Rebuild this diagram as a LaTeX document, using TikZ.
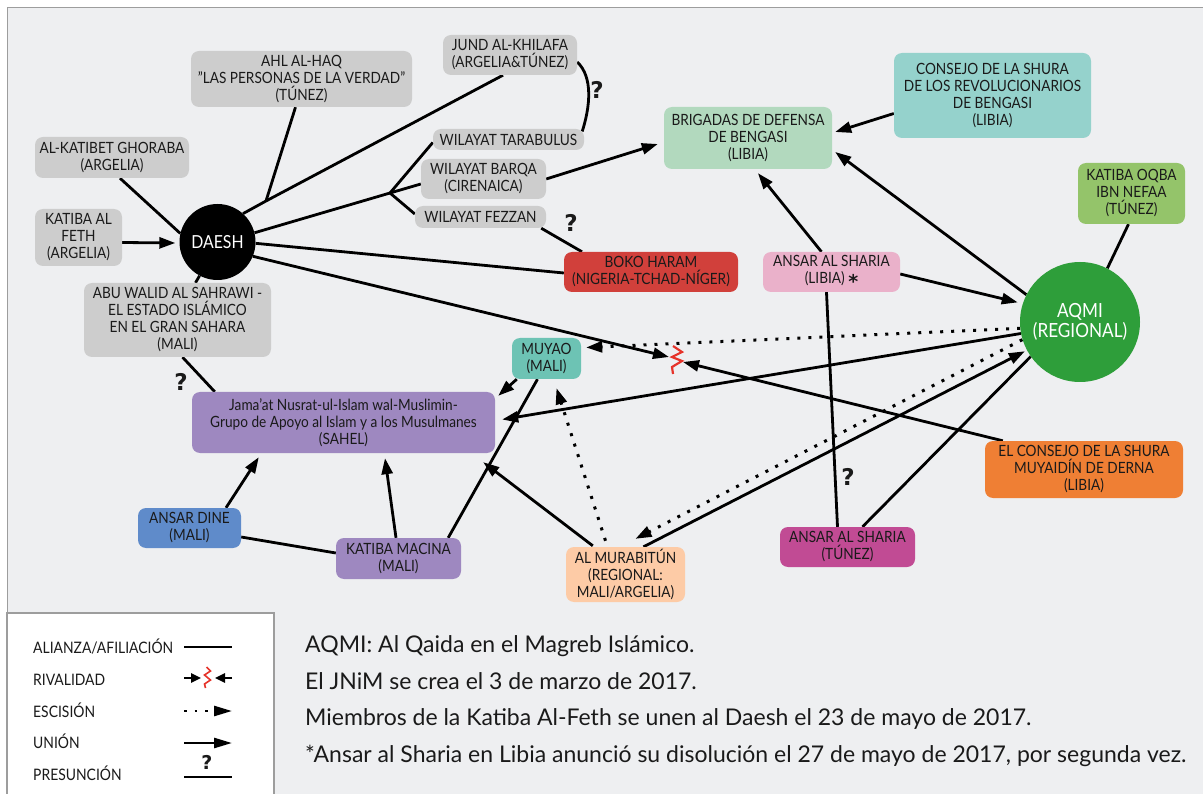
\documentclass[tikz,border=0pt]{standalone}
\usepackage{fontspec}
\setmainfont{Lato}[FakeStretch=0.88]
\newfontfamily\notefam{Lato}
\newfontfamily\qfam{DejaVu Sans}
\usetikzlibrary{arrows.meta,calc}
\definecolor{bgc}{HTML}{EEEFF1}
\definecolor{frame}{HTML}{9D9D9D}
\definecolor{cgray}{HTML}{CDCDCD}
\definecolor{cbrig}{HTML}{B2D9BE}
\definecolor{ccons}{HTML}{95D2CC}
\definecolor{coqba}{HTML}{94C46A}
\definecolor{caqmi}{HTML}{2E9E3A}
\definecolor{cboko}{HTML}{D1403B}
\definecolor{casl}{HTML}{EAB1CA}
\definecolor{cmuyao}{HTML}{6DC3B4}
\definecolor{cjnim}{HTML}{9E88C0}
\definecolor{cdine}{HTML}{5F8BCA}
\definecolor{cmurab}{HTML}{FDCBA6}
\definecolor{cast}{HTML}{C14B94}
\definecolor{cderna}{HTML}{EF7F34}
\definecolor{rivred}{HTML}{E6332A}
\definecolor{txt}{HTML}{1A1A1A}
\newcommand\boxfont{\fontsize{15.5}{17}\selectfont}
\newcommand\qfont{\qfam\fontsize{23}{23}\selectfont\bfseries}
\newcommand\daeshfont{\fontsize{18}{18}\selectfont}
\newcommand\aqmifont{\fontsize{19.5}{20}\selectfont}
\newcommand\notefont{\notefam\fontsize{23}{25}\selectfont}
\newcommand\legfont{\fontsize{15.8}{16}\selectfont}
\pgfdeclarelayer{bg}
\pgfsetlayers{bg,main}
\begin{document}
\begin{tikzpicture}[x=1pt,y=-1pt,
  box/.style={rounded corners=8pt,inner sep=0pt,align=center,font=\boxfont,text=txt},
  con/.style={line width=2.8pt},
  uni/.style={con,-{Triangle[length=16pt,width=11pt]}},
  esc/.style={line width=3pt,dash pattern=on 3pt off 8pt,-{Triangle[length=16pt,width=11pt]}},
  qm/.style={font=\qfont,text=txt,inner sep=0pt},
  riv/.style={draw=rivred,line width=2.2pt,line join=miter},
  note/.style={anchor=base west,font=\notefont,text=txt,inner sep=0pt},
  leg/.style={anchor=base west,font=\legfont,text=txt,inner sep=0pt}]
\useasboundingbox (0,0) rectangle (1203,794);

% nodes
\node[box,fill=cgray,minimum width=221pt,minimum height=56pt] (ahl) at (301.5,79) {AHL AL-HAQ\\"LAS PERSONAS DE LA VERDAD"\\(TÚNEZ)};
\node[box,fill=cgray,minimum width=134pt,minimum height=40pt] (jund) at (510,55) {JUND AL-KHILAFA\\(ARGELIA\&TÚNEZ)};
\node[box,fill=cgray,minimum width=154pt,minimum height=41pt] (ghoraba) at (112,157.5) {AL-KATIBET GHORABA\\(ARGELIA)};
\node[box,fill=cgray,minimum width=87pt,minimum height=57pt] (feth) at (78.5,237.5) {KATIBA AL\\FETH\\(ARGELIA)};
\node[box,fill=cgray,minimum width=151pt,minimum height=21pt] (tarab) at (508.5,139.5) {WILAYAT TARABULUS};
\node[box,fill=cgray,minimum width=125pt,minimum height=40pt] (barqa) at (483.5,179) {WILAYAT BARQA\\(CIRENAICA)};
\node[box,fill=cgray,minimum width=131pt,minimum height=22pt] (fezzan) at (480.5,217) {WILAYAT FEZZAN};
\node[box,fill=cgray,minimum width=187pt,minimum height=74pt] (abuwalid) at (177.5,320) {ABU WALID AL SAHRAWI -\\EL ESTADO ISLÁMICO\\EN EL GRAN SAHARA\\(MALI)};
\node[circle,fill=black,minimum size=76pt,inner sep=0pt,text=white,font=\daeshfont] (daesh) at (217.5,242) {DAESH};
\node[box,fill=cbrig,minimum width=168pt,minimum height=62pt] (brig) at (748,138) {BRIGADAS DE DEFENSA\\DE BENGASI\\(LIBIA)};
\node[box,fill=ccons,minimum width=197pt,minimum height=85pt] (consejo) at (992.5,95.5) {CONSEJO DE LA SHURA\\DE LOS REVOLUCIONARIOS\\DE BENGASI\\(LIBIA)};
\node[box,fill=coqba,minimum width=107pt,minimum height=61pt] (oqba) at (1131.5,193.5) {KATIBA OQBA\\IBN NEFAA\\(TÚNEZ)};
\node[circle,fill=caqmi,minimum size=120pt,inner sep=0pt,text=white,align=center,font=\aqmifont] (aqmi) at (1080,322) {AQMI\\(REGIONAL)};
\node[box,fill=cboko,minimum width=174pt,minimum height=40pt] (boko) at (651,272) {BOKO HARAM\\(NIGERIA-TCHAD-NÍGER)};
\node[box,fill=casl,minimum width=137pt,minimum height=40pt] (asl) at (831.5,272) {ANSAR AL SHARIA\\(LIBIA) \raisebox{-0.3em}{\qfam\fontsize{19}{17}\selectfont\bfseries *}};
\node[box,fill=cmuyao,minimum width=69pt,minimum height=41pt] (muyao) at (546.5,358.5) {MUYAO\\(MALI)};
\node[box,fill=cjnim,minimum width=303pt,minimum height=61pt] (jnim) at (343.5,422.5) {Jama'at Nusrat-ul-Islam wal-Muslimin-\\Grupo de Apoyo al Islam y a los Musulmanes\\(SAHEL)};
\node[box,fill=cdine,minimum width=103pt,minimum height=40pt] (dine) at (189.5,528) {ANSAR DINE\\(MALI)};
\node[box,fill=cjnim,minimum width=125pt,minimum height=41pt] (macina) at (398.5,558.5) {KATIBA MACINA\\(MALI)};
\node[box,fill=cmurab,minimum width=119pt,minimum height=55pt] (murab) at (625.5,574.5) {AL MURABITÚN\\(REGIONAL:\\MALI/ARGELIA)};
\node[box,fill=cast,minimum width=135pt,minimum height=40pt] (ast) at (847.5,547) {ANSAR AL SHARIA\\(TÚNEZ)};
\node[box,fill=cderna,minimum width=198pt,minimum height=57pt] (derna) at (1084,469.5) {EL CONSEJO DE LA SHURA\\MUYAIDÍN DE DERNA\\(LIBIA)};

\coordinate (j1) at (266,201);
\coordinate (j2) at (390,193);
\coordinate (rz) at (676,360);

% question marks
\node[qm] (q1) at (597,90) {?};
\node[qm] (q2) at (571,223) {?};
\node[qm] (q3) at (181,382) {?};
\node[qm] (q4) at (848,477) {?};

% notes
\node[note] (n1) at (305,652) {AQMI: Al Qaida en el Magreb Islámico.};
\node[note] (n2) at (305,689) {El JNiM se crea el 3 de marzo de 2017.};
\node[note] (n3) at (305,725) {Miembros de la Katiba Al-Feth se unen al Daesh el 23 de mayo de 2017.};
\node[note] (n4) at (305,762) {*Ansar al Sharia en Libia anunció su disolución el 27 de mayo de 2017, por segunda vez.};

\begin{pgfonlayer}{bg}
\fill[white] (0,0) rectangle (1203,794);
\fill[bgc] (7,8) rectangle (1203,794);
\draw[frame,line width=1pt] (7,794) -- (7,8) -- (1203,8);
% legend box
\fill[white] (7,613) rectangle (274,794);
\draw[frame,line width=1.2pt] (7,794) -- (7,613) -- (274,613) -- (274,794);

% edges
\draw[con] ($(ghoraba.south)+(8,0)$) -- (daesh.167);
\draw[uni] ($(feth.east)+(0,5)$) -- ($(daesh.west)+(-4,1)$);
\draw[con] (daesh.48) -- (j1) -- ($(jund.south)+(-7,0)$);
\draw[con] (j1) -- ($(ahl.south)+(-6,0)$);
\draw[con] (daesh.14) -- (j2);
\draw[con] (j2) -- ($(tarab.west)+(0,3)$);
\draw[con] (j2) -- ($(barqa.west)+(0,5)$);
\draw[con] (j2) -- ($(fezzan.west)+(0,-3)$);
\draw[con] ($(jund.east)+(0,7)$) .. controls +(16,15) and +(8,-25) .. ($(tarab.east)+(-2,-8)$);
\draw[uni] (barqa.east) -- ($(brig.west)+(-6,6)$);
\draw[con] ($(fezzan.south east)+(-5,0)$) -- ($(boko.north)+(-69,0)$);
\draw[con] (daesh.-2) -- ($(boko.west)+(0,1)$);
\draw[uni] (daesh.-22) -- ($(rz)+(-7,-3)$);
\draw[uni] ($(derna.north west)+(18,0)$) -- ($(rz)+(7,2)$);
\draw[con] (daesh.-118) -- ($(abuwalid.north)+(18,0)$);
\draw[con] ($(abuwalid.south)+(5,0)$) -- ($(jnim.north west)+(23,0)$);
\draw[uni] ($(consejo.west)+(0,18)$) -- ($(brig.east)+(3,-6)$);
\draw[uni] (aqmi.153) -- ($(brig.east)+(3,14)$);
\draw[uni] ($(asl.north)+(-10,0)$) -- ($(brig.south)+(10,4)$);
\draw[uni] ($(asl.east)+(0,2)$) -- ($(aqmi.162)+(-5,-1)$);
\draw[con] ($(oqba.south)+(-3,0)$) -- (aqmi.63);
\draw[esc] (aqmi.186) -- ($(muyao.east)+(5,-11)$);
\draw[uni] (aqmi.191) -- ($(jnim.east)+(7,-3)$);
\draw[esc] (aqmi.197) -- ($(murab.north)+(10,-8)$);
\draw[uni] ($(murab.north)+(18,0)$) -- ($(aqmi.208)+(-2,1)$);
\draw[con] (aqmi.215) -- ($(ast.north)+(15,0)$);
\draw[con] ($(asl.south)+(-5,0)$) -- ($(ast.north)+(-10,0)$);
\draw[uni] ($(muyao.south west)+(5,0)$) -- ($(jnim.north east)+(3,4)$);
\draw[con] ($(macina.north east)+(-13,0)$) -- ($(muyao.south)+(-9,0)$);
\draw[esc] ($(murab.north)+(-20,-6)$) -- ($(muyao.south)+(10,9)$);
\draw[uni] ($(murab.north west)+(27,-1)$) -- ($(jnim.south east)+(-12,9)$);
\draw[uni] ($(dine.north)+(36.5,0)$) -- ($(jnim.south west)+(67,4)$);
\draw[uni] ($(macina.north)+(-2.5,0)$) -- ($(jnim.south)+(41.5,5)$);
\draw[con] ($(dine.east)+(0,9)$) -- ($(macina.west)+(0,-5.5)$);
\end{pgfonlayer}

% rivalry zigzag
\draw[riv] ($(rz)+(-3,-14)$) -- ($(rz)+(6,-8)$) -- ($(rz)+(-4,-3)$) -- ($(rz)+(6,1)$) -- ($(rz)+(-4,7)$) -- ($(rz)+(-3,14)$);

% legend
\node[leg] (l1) at (33,653) {ALIANZA/AFILIACIÓN};
\node[leg] (l2) at (33,685) {RIVALIDAD};
\node[leg] (l3) at (33,717) {ESCISIÓN};
\node[leg] (l4) at (33,748) {UNIÓN};
\node[leg] (l5) at (33,780) {PRESUNCIÓN};
\coordinate (a1) at (184,647); \coordinate (a2) at (232,647);
\draw[con] (a1) -- (a2);
\coordinate (b1) at (184,678); \coordinate (b2) at (201,678);
\coordinate (b3) at (232,678); \coordinate (b4) at (215,678);
\coordinate (bz) at (207.5,677);
\draw[line width=2.4pt,-{Triangle[length=10pt,width=9pt]}] (b1) -- (b2);
\draw[line width=2.4pt,-{Triangle[length=10pt,width=9pt]}] (b3) -- (b4);
\draw[draw=rivred,line width=1.6pt] ($(bz)+(-1,-10)$) -- ($(bz)+(3,-6)$) -- ($(bz)+(-3,-2)$) -- ($(bz)+(3,3)$) -- ($(bz)+(-3,7)$) -- ($(bz)+(-2,11)$);
\coordinate (c1) at (184,711); \coordinate (c2) at (232,711);
\draw[esc,line width=2.6pt,dash pattern=on 2.6pt off 8pt,-{Triangle[length=18pt,width=10pt]}] (c1) -- (c2);
\coordinate (d1) at (184,743); \coordinate (d2) at (232,743);
\draw[line width=2.6pt,-{Triangle[length=18pt,width=10pt]}] (d1) -- (d2);
\coordinate (e1) at (184,777); \coordinate (e2) at (232,777);
\draw[line width=2.6pt] (e1) -- (e2);
\node[font=\qfam\fontsize{19}{19}\selectfont\bfseries,text=txt,inner sep=0pt] (q5) at (207,762) {?};
\end{tikzpicture}
\end{document}
